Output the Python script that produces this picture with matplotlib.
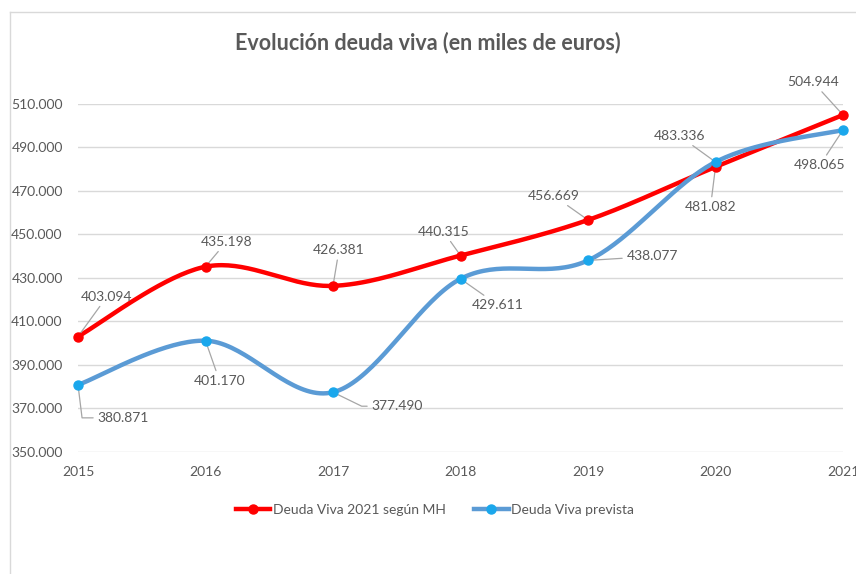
import numpy as np
import matplotlib.pyplot as plt
from matplotlib.lines import Line2D

plt.rcParams['font.family'] = ['Lato', 'DejaVu Sans']

years = [2015, 2016, 2017, 2018, 2019, 2020, 2021]
deuda_mh = [403094, 435198, 426381, 440315, 456669, 481082, 504944]
deuda_prevista = [380871, 401170, 377490, 429611, 438077, 483336, 498065]
label_mh = "Deuda Viva 2021 según MH"
label_prev = "Deuda Viva prevista"

# label offsets in pixels (dx, dy) and leader connection style
off_mh = [(29, 40), (21, 25), (6, 36), (-17, 24), (-34, 24), (-5, -40), (-30, 33)]
off_prev = [(45, -33), (14, -40), (64, -14), (37, -26), (64, 4), (-36, 26), (-23, -35)]
conn_prev = ["angle,angleA=0,angleB=-83,rad=0", None, "angle,angleA=0,angleB=-26,rad=0",
             None, None, None, None]


def smooth(x, y, n=40):
    # excel-like smoothed line (catmull-rom bezier)
    x = np.asarray(x, float)
    y = np.asarray(y, float)
    px = np.concatenate([[x[0]], x, [x[-1]]])
    py = np.concatenate([[y[0]], y, [y[-1]]])
    xs, ys = [], []
    t = np.linspace(0, 1, n)
    for i in range(1, len(px) - 2):
        p0 = np.array([px[i], py[i]])
        p3 = np.array([px[i + 1], py[i + 1]])
        c1 = p0 + (p3 - np.array([px[i - 1], py[i - 1]])) / 6
        c2 = p3 - (np.array([px[i + 2], py[i + 2]]) - p0) / 6
        b = ((1 - t) ** 3)[:, None] * p0 + (3 * (1 - t) ** 2 * t)[:, None] * c1 \
            + (3 * (1 - t) * t ** 2)[:, None] * c2 + (t ** 3)[:, None] * p3
        xs.extend(b[:, 0])
        ys.extend(b[:, 1])
    return np.array(xs), np.array(ys)


fig = plt.figure(figsize=(8.56, 5.74), dpi=100)
ax = fig.add_axes([78 / 856, 1 - 452 / 574, (843 - 78) / 856, (452 - 104) / 574])

red = '#FF0000'
blue_line = '#5B9BD5'
blue_mark = '#1AA7EC'
gray = '#595959'

sx, sy = smooth(years, deuda_mh)
ax.plot(sx, sy, color=red, lw=3.2, solid_capstyle='round', zorder=3, clip_on=False)
ax.plot(years, deuda_mh, 'o', color=red, ms=6.5, zorder=4, clip_on=False)
sx, sy = smooth(years, deuda_prevista)
ax.plot(sx, sy, color=blue_line, lw=3.2, solid_capstyle='round', zorder=3, clip_on=False)
ax.plot(years, deuda_prevista, 'o', color=blue_mark, ms=6.5, zorder=4, clip_on=False)


def fmt(v):
    return f"{v:,}".replace(",", ".")


for i, yr in enumerate(years):
    ax.annotate(fmt(deuda_mh[i]), (yr, deuda_mh[i]), xytext=off_mh[i],
                textcoords='offset pixels', ha='center', va='center',
                fontsize=10, color=gray, annotation_clip=False,
                arrowprops=dict(arrowstyle='-', color='#A6A6A6', lw=0.9,
                                shrinkA=1, shrinkB=3))
    ap = dict(arrowstyle='-', color='#A6A6A6', lw=0.9, shrinkA=1, shrinkB=3)
    if conn_prev[i]:
        ap['connectionstyle'] = conn_prev[i]
    ax.annotate(fmt(deuda_prevista[i]), (yr, deuda_prevista[i]), xytext=off_prev[i],
                textcoords='offset pixels', ha='center', va='center',
                fontsize=10, color=gray, annotation_clip=False, arrowprops=ap)

ax.set_xlim(2015, 2021)
ax.set_ylim(350000, 510000)
ax.set_yticks(np.arange(350000, 510001, 20000))
ax.set_yticklabels([fmt(v) for v in range(350000, 510001, 20000)])
ax.set_xticks(years)
ax.grid(axis='y', color='#D9D9D9', lw=1)
ax.set_axisbelow(True)
for s in ax.spines.values():
    s.set_visible(False)
ax.tick_params(length=0, labelsize=10, colors=gray, pad=10)
ax.tick_params(axis='y', pad=11)

fig.text(428 / 856, 1 - 43 / 574, "Evolución deuda viva (en miles de euros)", fontsize=15.5,
         fontweight='bold', color=gray, ha='center', va='center')

handles = [Line2D([], [], color=red, lw=3.2, marker='o', ms=6.5),
           Line2D([], [], color=blue_line, lw=3.2, marker='o', ms=6.5, mfc=blue_mark, mec=blue_mark)]
leg = fig.legend(handles, [label_mh, label_prev], loc='center', bbox_to_anchor=(435 / 856, 1 - 510 / 574),
                 ncol=2, frameon=False, fontsize=10, handlelength=2.5, handletextpad=0.2,
                 columnspacing=2.0)
for t in leg.get_texts():
    t.set_color(gray)

# chart border
fig.add_artist(Line2D([10 / 856, 10 / 856], [0, 1 - 12 / 574], color='#D9D9D9', lw=1))
fig.add_artist(Line2D([10 / 856, 1], [1 - 12 / 574, 1 - 12 / 574], color='#D9D9D9', lw=1))

fig.savefig('out.png', dpi=100)
